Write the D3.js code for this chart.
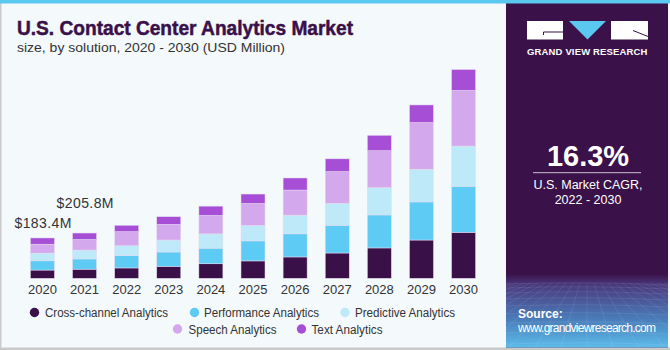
<!DOCTYPE html>
<html><head><meta charset="utf-8">
<script src="https://cdn.jsdelivr.net/npm/d3@7"></script>
<style>
html,body{margin:0;padding:0;background:#fff;}
svg{display:block;font-family:"Liberation Sans",Arial,sans-serif;}
</style></head>
<body>
<svg id="c" width="670" height="350"></svg>
<script>
const years = ["2020","2021","2022","2023","2024","2025","2026","2027","2028","2029","2030"];
const seriesNames = ["Cross-channel Analytics","Performance Analytics","Predictive Analytics","Speech Analytics","Text Analytics"];
const crossChannel = [37.5, 41.5, 47, 54.5, 66, 79, 97, 115, 138, 174, 209];
const performance  = [42, 46.5, 56, 65, 71, 91, 105, 126, 150, 173, 209];
const predictive   = [35, 40.5, 45, 54.5, 65, 70, 85, 100, 124, 149, 183];
const speech       = [40.5, 48, 64, 71, 84, 100, 114, 144, 168, 212, 253];
const textAn       = [28.4, 29.3, 29, 35, 42, 43, 55, 58, 70, 80, 95];
const seriesColors = ["#3a1049","#5ecbf5","#bde9f8","#d4a8ec","#a64fd6"];
const annotations = [{year:"2020", label:"$183.4M"},{year:"2021", label:"$205.8M"}];

const svg = d3.select("#c");
// background panel
svg.append("rect").attr("x",0).attr("y",0).attr("width",670).attr("height",350).attr("fill","#f4f9fc");
svg.append("rect").attr("x",0).attr("y",0).attr("width",1.5).attr("height",350).attr("fill","#c9c9c9");
svg.append("rect").attr("x",0).attr("y",347.5).attr("width",670).attr("height",2.5).attr("fill","#c9c9c9");

// right panel
const defs = svg.append("defs");
const g1 = defs.append("linearGradient").attr("id","srcg").attr("x1",0).attr("y1",0).attr("x2",0).attr("y2",1);
g1.append("stop").attr("offset","0%").attr("stop-color","#3a1149");
g1.append("stop").attr("offset","15%").attr("stop-color","#4a3a7e");
g1.append("stop").attr("offset","60%").attr("stop-color","#4a7ab8");
g1.append("stop").attr("offset","100%").attr("stop-color","#5bbbe9");
svg.append("rect").attr("x",506).attr("y",0).attr("width",162).attr("height",347.5).attr("fill","#3a1149");
const gradTop = 274;
svg.append("rect").attr("x",506).attr("y",gradTop).attr("width",162).attr("height",347.5-gradTop).attr("fill","url(#srcg)");
// faint wireframe
const wf = svg.append("g").attr("stroke","#ffffff").attr("stroke-opacity",0.12).attr("stroke-width",0.7).attr("fill","none");
const hy = [284,288,293,299,306,314,323,333,344];
hy.forEach(y=>wf.append("path").attr("d",`M506,${y} Q587,${y-3} 668,${y+1}`));
for(let i=-12;i<=12;i++){
  wf.append("line").attr("x1",587+i*7).attr("y1",283).attr("x2",587+i*26).attr("y2",347.5);
}
// top strip
svg.append("rect").attr("x",0).attr("y",0).attr("width",670).attr("height",3.5).attr("fill","#5bc8f0");

// logo
svg.append("rect").attr("x",527).attr("y",21).attr("width",36).attr("height",18.5).attr("fill","#fff");
svg.append("path").attr("d","M543.5,35 L543.5,32 L563,32").attr("stroke","#3a1149").attr("stroke-width",1).attr("fill","none");
svg.append("path").attr("d","M569,21 L606,21 L587.5,39.5 Z").attr("fill","#5bc8f0");
svg.append("rect").attr("x",611).attr("y",21).attr("width",37).attr("height",18.5).attr("fill","#fff");
svg.append("path").attr("d","M633,30.5 L648,36.5").attr("stroke","#3a1149").attr("stroke-width",1);
svg.append("text").attr("x",587.5).attr("y",54.5).attr("text-anchor","middle").attr("fill","#fff")
  .attr("font-size",9.5).attr("font-weight","bold").attr("letter-spacing",0.6).attr("textLength",121).text("GRAND VIEW RESEARCH");

// CAGR
svg.append("text").attr("x",588).attr("y",166).attr("text-anchor","middle").attr("fill","#fff")
  .attr("font-size",29).attr("font-weight","bold").text("16.3%");
svg.append("line").attr("x1",533).attr("x2",641).attr("y1",172.7).attr("y2",172.7).attr("stroke","#c9bfd0").attr("stroke-width",1);
svg.append("text").attr("x",588).attr("y",189).attr("text-anchor","middle").attr("fill","#fff").attr("font-size",12.5).text("U.S. Market CAGR,");
svg.append("text").attr("x",588).attr("y",204).attr("text-anchor","middle").attr("fill","#fff").attr("font-size",12.5).text("2022 - 2030");

// source
svg.append("text").attr("x",518).attr("y",318).attr("fill","#fff").attr("font-size",12).attr("font-weight","bold").text("Source:");
svg.append("text").attr("x",518).attr("y",332).attr("fill","#fff").attr("font-size",12).attr("textLength",138).text("www.grandviewresearch.com");

// titles
svg.append("text").attr("x",17).attr("y",35).attr("fill","#3a1049").attr("font-size",21).attr("font-weight","bold")
  .attr("stroke","#3a1049").attr("stroke-width",0.5)
  .attr("textLength",336).attr("lengthAdjust","spacingAndGlyphs").text("U.S. Contact Center Analytics Market");
svg.append("text").attr("x",17).attr("y",52).attr("fill","#333").attr("font-size",13)
  .attr("textLength",268).attr("lengthAdjust","spacingAndGlyphs").text("size, by solution, 2020 - 2030 (USD Million)");

// chart
const x = d3.scaleBand().domain(years).range([22,484]).paddingInner(0.43).paddingOuter(0.2);
const y = d3.scaleLinear().domain([0,1000]).range([278.3,58.3]);
const data = years.map((yr,i)=>({year:yr, s0:crossChannel[i], s1:performance[i], s2:predictive[i], s3:speech[i], s4:textAn[i]}));
const stack = d3.stack().keys(["s0","s1","s2","s3","s4"])(data);
const gBars = svg.append("g");
stack.forEach((layer,li)=>{
  gBars.append("g").attr("fill",seriesColors[li]).selectAll("rect").data(layer).join("rect")
    .attr("x",d=>x(d.data.year)).attr("width",x.bandwidth())
    .attr("y",d=>y(d[1])).attr("height",d=>y(d[0])-y(d[1]))
    .attr("stroke","#e6dcef").attr("stroke-width",0.5);
});
const xAxis = svg.append("g").attr("transform","translate(0,278.3)").call(d3.axisBottom(x).tickSize(0).tickPadding(6));
xAxis.select(".domain").remove();
xAxis.selectAll("text").attr("font-size",13).attr("fill","#333").attr("font-family","Liberation Sans, Arial, sans-serif");

// annotations
const totals = data.map(d=>d.s0+d.s1+d.s2+d.s3+d.s4);
const annoPos = [{dx:-16, dy:-10},{dx:-16, dy:-25}];
annotations.forEach((a,i)=>{
  const idx = years.indexOf(a.year);
  svg.append("text").attr("x",x(a.year)+annoPos[i].dx).attr("y",y(totals[idx])+annoPos[i].dy)
    .attr("fill","#333").attr("font-size",14).attr("textLength",57).text(a.label);
});

// legend
const legendPos = [{cx:34.5, tx:45, y:312.5, w:123},{cx:194.5, tx:204, y:312.5, w:115},{cx:345, tx:355, y:312.5, w:100},{cx:177.5, tx:188.5, y:329, w:88},{cx:301.5, tx:311.5, y:329, w:71}];
seriesNames.forEach((n,i)=>{
  const p = legendPos[i];
  svg.append("circle").attr("cx",p.cx).attr("cy",p.y).attr("r",4.7).attr("fill",seriesColors[i]);
  svg.append("text").attr("x",p.tx).attr("y",p.y+4.5).attr("fill","#333").attr("font-size",12.5)
    .attr("textLength",p.w).attr("lengthAdjust","spacingAndGlyphs").text(n);
});
</script>
</body></html>
